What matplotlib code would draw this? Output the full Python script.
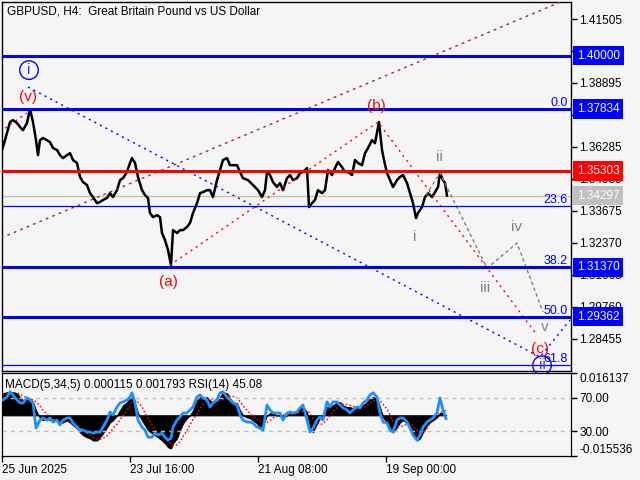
import matplotlib
matplotlib.use('Agg')
import matplotlib.pyplot as plt
import matplotlib.transforms as mtransforms

plt.rcParams['font.family'] = ['Liberation Sans', 'DejaVu Sans']

BG = '#F5F5F5'

# GBPUSD H4 closes (bar position on the time axis -> price)
price_bars = [2, 5, 7, 10, 13, 17, 20, 23, 27, 30, 33, 36, 38, 40, 43, 47, 50, 53, 57, 60,
              63, 67, 70, 73, 77, 80, 83, 87, 90, 93, 97, 100, 103, 107, 110, 113, 117, 120, 123, 127,
              130, 132, 135, 138, 142, 145, 148, 150, 153, 157, 160, 162, 165, 168, 171, 173, 177, 180, 183, 187,
              190, 193, 197, 200, 203, 207, 210, 213, 217, 220, 223, 227, 230, 233, 237, 240, 243, 248, 253, 258,
              262, 265, 267, 270, 273, 277, 280, 283, 287, 290, 293, 297, 300, 303, 307, 309, 312, 315, 318, 322,
              325, 328, 332, 335, 338, 342, 345, 348, 352, 355, 358, 362, 365, 368, 372, 375, 378, 379, 382, 384,
              387, 390, 393, 397, 400, 403, 407, 410, 413, 416, 418, 422, 425, 428, 432, 435, 438, 440, 443, 445,
              447]
price_close = [1.3616, 1.3656, 1.3685, 1.3730, 1.3738, 1.3726, 1.3710, 1.3697, 1.3726, 1.3783,
               1.3730, 1.3656, 1.3595, 1.3656, 1.3665, 1.3656, 1.3648, 1.3624, 1.3616, 1.3595,
               1.3583, 1.3595, 1.3603, 1.3575, 1.3563, 1.3506, 1.3485, 1.3473, 1.3440, 1.3424,
               1.3399, 1.3404, 1.3412, 1.3420, 1.3440, 1.3424, 1.3452, 1.3493, 1.3501, 1.3526,
               1.3563, 1.3583, 1.3563, 1.3506, 1.3452, 1.3432, 1.3420, 1.3359, 1.3342, 1.3350,
               1.3342, 1.3277, 1.3248, 1.3208, 1.3146, 1.3289, 1.3277, 1.3289, 1.3289, 1.3302,
               1.3318, 1.3359, 1.3399, 1.3440, 1.3444, 1.3452, 1.3452, 1.3424, 1.3493, 1.3534,
               1.3575, 1.3583, 1.3554, 1.3554, 1.3554, 1.3526, 1.3501, 1.3493, 1.3473, 1.3452,
               1.3424, 1.3452, 1.3526, 1.3514, 1.3485, 1.3465, 1.3481, 1.3452, 1.3501, 1.3514,
               1.3493, 1.3501, 1.3522, 1.3526, 1.3542, 1.3383, 1.3399, 1.3412, 1.3452, 1.3440,
               1.3452, 1.3534, 1.3514, 1.3542, 1.3567, 1.3546, 1.3526, 1.3526, 1.3514, 1.3575,
               1.3563, 1.3554, 1.3603, 1.3624, 1.3656, 1.3644, 1.3710, 1.3730, 1.3616, 1.3575,
               1.3522, 1.3493, 1.3465, 1.3493, 1.3506, 1.3514, 1.3481, 1.3440, 1.3399, 1.3338,
               1.3359, 1.3383, 1.3424, 1.3440, 1.3424, 1.3444, 1.3465, 1.3522, 1.3493, 1.3481,
               1.3430]

# indicator window: MACD(5,34,5) main/signal and RSI(14)
ind_bars = [3, 7, 10, 13, 17, 20, 23, 27, 30, 33,
            36, 40, 43, 47, 50, 53, 57, 60, 63, 67,
            70, 73, 77, 80, 83, 87, 90, 93, 97, 100,
            103, 107, 110, 113, 117, 120, 123, 127, 130, 132,
            135, 138, 142, 145, 148, 152, 155, 158, 162, 165,
            168, 171, 173, 177, 180, 183, 187, 190, 193, 197,
            200, 203, 207, 210, 213, 217, 220, 223, 227, 230,
            233, 237, 240, 243, 247, 250, 253, 257, 260, 263,
            267, 270, 273, 277, 280, 283, 287, 290, 293, 297,
            300, 303, 307, 310, 313, 317, 320, 323, 327, 330,
            333, 337, 340, 343, 347, 350, 353, 357, 360, 363,
            367, 370, 373, 377, 380, 383, 387, 390, 393, 397,
            400, 403, 407, 410, 413, 417, 420, 423, 427, 430,
            433, 437, 440, 443, 446]
macd_main = [0.0084, 0.0088, 0.0088, 0.0088, 0.0084, 0.0069, 0.0057, 0.0065, 0.0065, 0.0050,
             0.0019, -0.0011, -0.0019, -0.0011, -0.0019, -0.0019, -0.0019, -0.0031, -0.0027, -0.0019,
             -0.0027, -0.0038, -0.0050, -0.0065, -0.0076, -0.0084, -0.0088, -0.0096, -0.0096, -0.0084,
             -0.0069, -0.0046, -0.0027, -0.0019, 0.0000, 0.0019, 0.0038, 0.0050, 0.0065, 0.0069,
             0.0046, 0.0008, -0.0019, -0.0038, -0.0057, -0.0069, -0.0076, -0.0084, -0.0096, -0.0107,
             -0.0122, -0.0126, -0.0107, -0.0088, -0.0057, -0.0031, -0.0011, 0.0000, 0.0019, 0.0057,
             0.0069, 0.0065, 0.0069, 0.0057, 0.0050, 0.0050, 0.0069, 0.0088, 0.0084, 0.0065,
             0.0050, 0.0046, 0.0019, 0.0000, -0.0008, -0.0011, -0.0019, -0.0031, -0.0046, -0.0038,
             0.0000, 0.0008, 0.0008, 0.0000, 0.0000, -0.0008, 0.0000, 0.0008, 0.0008, 0.0011,
             0.0027, 0.0031, 0.0011, -0.0046, -0.0065, -0.0031, -0.0011, -0.0008, 0.0031, 0.0031,
             0.0038, 0.0050, 0.0050, 0.0038, 0.0031, 0.0031, 0.0027, 0.0031, 0.0027, 0.0038,
             0.0050, 0.0065, 0.0069, 0.0065, 0.0031, -0.0008, -0.0027, -0.0046, -0.0065, -0.0046,
             -0.0027, -0.0019, -0.0031, -0.0046, -0.0069, -0.0096, -0.0088, -0.0065, -0.0038, -0.0027,
             -0.0019, -0.0008, 0.0008, 0.0010, 0.000115]
macd_signal = [0.0077, 0.0081, 0.0085, 0.0086, 0.0086, 0.0081, 0.0074, 0.0067, 0.0063, 0.0059,
               0.0052, 0.0036, 0.0020, 0.0005, -0.0007, -0.0016, -0.0018, -0.0022, -0.0025, -0.0025,
               -0.0025, -0.0030, -0.0036, -0.0045, -0.0056, -0.0068, -0.0077, -0.0085, -0.0090, -0.0092,
               -0.0088, -0.0079, -0.0065, -0.0050, -0.0034, -0.0018, -0.0001, 0.0016, 0.0036, 0.0049,
               0.0056, 0.0050, 0.0032, 0.0009, -0.0014, -0.0036, -0.0054, -0.0067, -0.0077, -0.0088,
               -0.0099, -0.0110, -0.0115, -0.0113, -0.0101, -0.0081, -0.0059, -0.0036, -0.0016, 0.0005,
               0.0025, 0.0043, 0.0056, 0.0063, 0.0061, 0.0057, 0.0056, 0.0061, 0.0068, 0.0074,
               0.0072, 0.0065, 0.0052, 0.0036, 0.0020, 0.0007, -0.0004, -0.0014, -0.0023, -0.0030,
               -0.0027, -0.0020, -0.0011, -0.0002, 0.0004, 0.0002, 0.0000, 0.0002, 0.0004, 0.0006,
               0.0011, 0.0016, 0.0018, 0.0009, -0.0013, -0.0029, -0.0036, -0.0032, -0.0018, -0.0002,
               0.0014, 0.0029, 0.0040, 0.0043, 0.0041, 0.0038, 0.0034, 0.0032, 0.0030, 0.0031,
               0.0036, 0.0045, 0.0054, 0.0059, 0.0056, 0.0043, 0.0023, 0.0002, -0.0023, -0.0038,
               -0.0043, -0.0041, -0.0034, -0.0032, -0.0041, -0.0056, -0.0075, -0.0070, -0.0050, -0.0030,
               -0.0012, 0.0002, 0.0010, 0.0015, 0.001793]
rsi_values = [67.6, 71.2, 77.3, 73.6, 67.6, 63.9, 63.9, 70.0, 67.6, 63.9,
              33.6, 43.3, 45.8, 43.3, 45.8, 40.9, 43.3, 37.3, 43.3, 45.8,
              45.8, 39.7, 34.8, 31.2, 31.2, 28.8, 28.8, 27.6, 28.8, 28.8,
              34.8, 43.3, 53.0, 49.4, 59.1, 63.9, 65.2, 67.6, 71.2, 76.1,
              63.9, 43.3, 34.8, 31.2, 22.7, 22.7, 27.6, 25.2, 27.6, 22.7,
              19.1, 21.5, 34.8, 43.3, 47.0, 51.8, 51.8, 55.5, 59.1, 71.2,
              73.6, 70.0, 67.6, 59.1, 63.9, 67.6, 76.1, 77.3, 71.2, 67.6,
              63.9, 61.5, 49.4, 43.3, 40.9, 40.9, 39.7, 34.8, 33.6, 31.2,
              61.5, 55.5, 51.8, 51.8, 51.8, 43.3, 51.8, 53.0, 51.8, 53.0,
              57.9, 61.5, 43.3, 28.8, 33.6, 43.3, 47.0, 43.3, 65.2, 59.1,
              65.2, 65.2, 61.5, 57.9, 55.5, 51.8, 55.5, 59.1, 57.9, 63.9,
              67.6, 73.6, 76.1, 71.2, 51.8, 40.9, 39.7, 31.2, 28.8, 43.3,
              45.8, 45.8, 40.9, 33.6, 25.2, 19.1, 25.2, 34.8, 40.9, 43.3,
              45.8, 51.8, 70.0, 55.5, 45.08]

# horizontal levels
thick_levels = [1.40000, 1.37834, 1.31370, 1.29362]
resist_level = 1.35303
last_price = 1.34297
fib_names = ['0.0', '23.6', '38.2', '50.0', '61.8']
fib_prices = [1.37834, 1.33870, 1.31370, 1.29362, 1.27380]
tag_prices = [1.40000, 1.37834, 1.35303, 1.34297, 1.31370, 1.29362]
tag_colors = ['#0000FF', '#0000FF', '#FF0000', '#C0C0C0', '#0000FF', '#0000FF']

# wave lines (bar, price)
blue_wave_bars = [28, 540, 570]
blue_wave_prices = [1.3873, 1.2771, 1.2922]
channel_bars = [1, 575]
channel_prices = [1.3257, 1.4245]
red_wave_bars = [170, 378, 537]
red_wave_prices = [1.3146, 1.3730, 1.2861]
red_prev_bars = [5, 27]
red_prev_prices = [1.3705, 1.3767]
forecast_bars = [426, 440, 487, 517, 543]
forecast_prices = [1.3432, 1.3522, 1.3134, 1.3236, 1.2955]

# wave labels
red_labels = ['(v)', '(a)', '(b)', '(c)']
red_label_bars = [28, 168, 376, 540]
red_label_prices = [1.3832, 1.3077, 1.3795, 1.2804]
gray_labels = ['i', 'ii', 'iii', 'iv', 'v']
gray_label_bars = [415, 439, 485, 517, 545]
gray_label_prices = [1.3261, 1.3587, 1.3053, 1.3302, 1.2894]
circ_labels = ['i', 'ii']
circ_label_bars = [29, 542]
circ_label_prices = [1.3942, 1.2737]

price_ticks = [1.41505, 1.40200, 1.38895, 1.37590, 1.36285, 1.34980,
               1.33675, 1.32370, 1.31065, 1.29760, 1.28455]
date_ticks = [2, 130, 258, 386]
date_labels = ['25 Jun 2025', '23 Jul 16:00', '21 Aug 08:00', '19 Sep 00:00']

fig = plt.figure(figsize=(6.4, 4.8), dpi=100, facecolor=BG)
ax = fig.add_axes([2 / 640, 1 - 371 / 480, 569 / 640, 369 / 480], facecolor=BG)
axi = fig.add_axes([2 / 640, 1 - 456 / 480, 569 / 640, 83 / 480], facecolor=BG)
axr = axi.twinx()

# ---- main price window
ax.set_xlim(2, 571)
ax.set_ylim(1.2714, 1.4220)

for lv in thick_levels:
    ax.axhline(lv, color='#0000FF', lw=2.2, zorder=4)
ax.axhline(resist_level, color='#FF0000', lw=2.2, zorder=4)
ax.axhline(fib_prices[1], color='#0000FF', lw=0.9, zorder=4)
ax.axhline(fib_prices[4], color='#0000FF', lw=0.9, zorder=4)
ax.axhline(last_price, color='#C0C0C0', lw=0.9, zorder=2)

ax.plot(price_bars, price_close, color='black', lw=1.8, zorder=3)

ax.plot(channel_bars, channel_prices, color='#A52A2A', lw=1, dashes=(2, 3), zorder=3)
ax.plot(blue_wave_bars, blue_wave_prices, color='#0000FF', lw=1, dashes=(1.5, 3), zorder=3)
ax.plot(red_wave_bars, red_wave_prices, color='#FF0000', lw=1, dashes=(1.5, 3), zorder=3)
ax.plot(red_prev_bars, red_prev_prices, color='#FF0000', lw=1, dashes=(1.5, 3), zorder=3)
ax.plot(forecast_bars, forecast_prices, color='#808080', lw=1, dashes=(2.5, 2), zorder=3)

for name, p in zip(fib_names, fib_prices):
    ax.text(568, p, name, color='#0000FF', fontsize=9, ha='right', va='bottom', zorder=6)

for s, b, p in zip(red_labels, red_label_bars, red_label_prices):
    ax.text(b, p, s, color='#FF0000', fontsize=11, ha='center', va='center', zorder=6)
for s, b, p in zip(gray_labels, gray_label_bars, gray_label_prices):
    ax.text(b, p, s, color='#808080', fontsize=11, ha='center', va='center', zorder=6)
for s, b, p in zip(circ_labels, circ_label_bars, circ_label_prices):
    ax.text(b, p, s, color='#3333FF', fontsize=11, ha='center', va='center', zorder=6,
            bbox=dict(boxstyle='circle,pad=0.15', fc='none', ec='#0000FF', lw=1))

ax.yaxis.tick_right()
ax.set_yticks(price_ticks)
ax.set_yticklabels(['%.5f' % t for t in price_ticks])
ax.tick_params(axis='y', direction='out', length=4, width=1, labelsize=8.5, pad=2)
ax.set_xticks([])
for sp in ax.spines.values():
    sp.set_linewidth(1)

trans = mtransforms.blended_transform_factory(ax.transAxes, ax.transData)
for p, c in zip(tag_prices, tag_colors):
    ax.text(1.0105, p, '%.5f' % p, transform=trans, color='white', fontsize=8.5,
            ha='left', va='center', clip_on=False, zorder=10,
            bbox=dict(boxstyle='square,pad=0.3', fc=c, ec='none'))

fig.text(7 / 640, 1 - 12 / 480, 'GBPUSD, H4:  Great Britain Pound vs US Dollar',
         fontsize=8.5, va='center', ha='left')

# ---- indicator window
axi.set_xlim(2, 571)
axi.set_ylim(-0.015536, 0.016137)
axi.fill_between(ind_bars, 0, macd_main, color='black', lw=0.8, zorder=2)
axi.plot(ind_bars, macd_signal, color='#FF0000', lw=1, dashes=(1.2, 1.5), zorder=3)
axi.yaxis.tick_right()
axi.set_yticks([0.016137, -0.015536])
axi.set_yticklabels(['0.016137', '-0.015536'])
axi.tick_params(axis='y', direction='out', length=4, width=1, labelsize=8.5, pad=2)
labs = axi.get_yticklabels()
labs[0].set_va('top')
labs[1].set_va('bottom')
axi.set_xticks(date_ticks)
axi.set_xticklabels(date_labels, ha='left')
axi.tick_params(axis='x', direction='out', length=4, width=1, labelsize=8.5, pad=2)

axr.set_ylim(0, 100)
axr.axhline(70, color='#C0C0C0', lw=1, dashes=(3, 3), zorder=1)
axr.axhline(30, color='#C0C0C0', lw=1, dashes=(3, 3), zorder=1)
axr.plot(ind_bars, rsi_values, color='#1E90FF', lw=2, zorder=4)
axr.set_yticks([70, 30])
axr.set_yticklabels(['70.00', '30.00'])
axr.tick_params(axis='y', direction='out', length=4, width=1, labelsize=8.5, pad=2)

fig.text(5 / 640, 1 - 385 / 480, 'MACD(5,34,5) 0.000115 0.001793 RSI(14) 45.08',
         fontsize=8.5, va='center', ha='left')

fig.savefig('out.png', dpi=100, facecolor=BG)
